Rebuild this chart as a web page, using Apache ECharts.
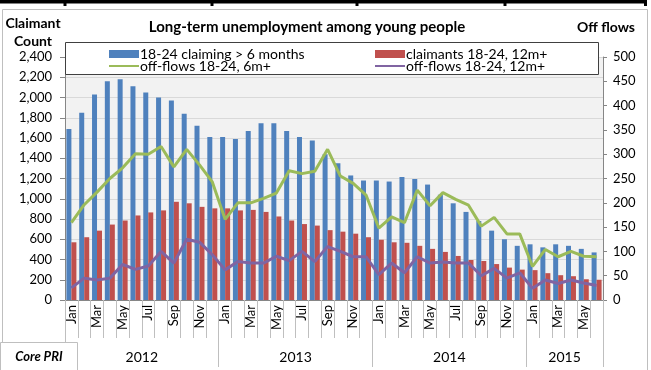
<!DOCTYPE html>
<html><head><meta charset="utf-8">
<script src="https://cdn.jsdelivr.net/npm/echarts@6/dist/echarts.min.js"></script>
<style>html,body{margin:0;padding:0;background:#fff}#c{width:651px;height:370px}</style>
</head><body><div id="c"></div>
<script>
const categories = [
 'Jan-2012','Feb-2012','Mar-2012','Apr-2012','May-2012','Jun-2012','Jul-2012','Aug-2012','Sep-2012','Oct-2012','Nov-2012','Dec-2012',
 'Jan-2013','Feb-2013','Mar-2013','Apr-2013','May-2013','Jun-2013','Jul-2013','Aug-2013','Sep-2013','Oct-2013','Nov-2013','Dec-2013',
 'Jan-2014','Feb-2014','Mar-2014','Apr-2014','May-2014','Jun-2014','Jul-2014','Aug-2014','Sep-2014','Oct-2014','Nov-2014','Dec-2014',
 'Jan-2015','Feb-2015','Mar-2015','Apr-2015','May-2015','Jun-2015'];
const years = ['2012','2013','2014','2015'];
const yearMonths = [12,12,12,6];
const claiming6m = [1690,1850,2030,2160,2180,2110,2050,2000,1970,1840,1720,1610,
 1610,1590,1670,1745,1745,1670,1610,1575,1440,1350,1230,1180,
 1180,1170,1215,1195,1140,1040,955,870,780,685,600,535,
 550,520,550,535,505,470];
const claimants12m = [570,620,685,745,785,835,865,885,970,955,920,905,
 905,885,890,870,825,785,750,735,690,675,655,620,
 595,570,565,535,505,475,435,395,385,355,320,300,
 295,265,245,235,205,200];
const offflows6m = [159,196,222,250,272,301,300,316,274,310,278,243,
 166,200,200,209,220,266,260,265,310,255,240,216,
 148,171,159,226,194,221,207,195,152,170,136,136,
 69,104,89,100,90,89];
const offflows12m = [25,45,41,45,73,63,70,100,76,125,119,93,
 62,79,76,76,90,81,100,79,110,100,89,89,
 52,76,56,89,76,78,76,76,50,65,45,56,
 24,41,34,41,35,30];
const names = ['18-24 claiming > 6 months','claimants 18-24, 12m+','off-flows 18-24, 6m+','off-flows 18-24, 12m+'];
const titleText = 'Long-term unemployment among young people';

const yearBounds = [0]; yearMonths.forEach(m => yearBounds.push(yearBounds[yearBounds.length-1] + m));
const yearMids = years.map((y,i) => (yearBounds[i] + yearBounds[i+1]) / 2);

const F = 'Lato';
const noSym = {opacity: 0, color: 'transparent', borderWidth: 0};
const txt = (s, x, y, size, extra) => ({type: 'text', z: 70, x: x, y: y,
  style: Object.assign({text: s, fontFamily: F, fontSize: size, fontWeight: 'bold', fill: '#000', align: 'center', verticalAlign: 'middle'}, extra || {})});
const chart = echarts.init(document.getElementById('c'), null, {renderer:'canvas'});
chart.setOption({
  animation: false,
  textStyle: {fontFamily: F},
  graphic: [
    {type: 'rect', z: -10, shape: {x: 2.5, y: 9.5, width: 645, height: 380}, style: {fill: 'none', stroke: '#BFBFBF', lineWidth: 1}},
    {type: 'rect', z: 100, shape: {x: 0, y: 0, width: 647, height: 3.5}, style: {fill: '#000'}},
    {type: 'rect', z: 100, shape: {x: 63.5, y: 0, width: 3, height: 6}, style: {fill: '#000'}},
    {type: 'rect', z: 100, shape: {x: 210.5, y: 0, width: 3, height: 6}, style: {fill: '#000'}},
    {type: 'rect', z: 100, shape: {x: 355.5, y: 0, width: 3, height: 6}, style: {fill: '#000'}},
    {type: 'rect', z: 100, shape: {x: 503.5, y: 0, width: 3, height: 6}, style: {fill: '#000'}},
    {type: 'rect', z: 100, shape: {x: 644, y: 0, width: 3, height: 6}, style: {fill: '#000'}},
    txt(titleText, 307, 27, 15),
    txt('Claimant', 33, 23, 14),
    txt('Count', 33, 41, 14),
    txt('Off flows', 606, 27, 14),
    {type: 'rect', z: 50, shape: {x: 65.5, y: 42.5, width: 533, height: 32}, style: {fill: '#fff', stroke: '#404040', lineWidth: 1}},
    {type: 'rect', z: 50, shape: {x: 0.5, y: 342.5, width: 77, height: 40}, style: {fill: '#fff', stroke: '#BFBFBF', lineWidth: 1}},
    txt('Core PRI', 39, 357, 13, {fontStyle: 'italic'})
  ],
  legend: [
    {left: 103, top: 42, orient: 'vertical', itemGap: -2, itemWidth: 30, itemHeight: 8, z: 60,
     textStyle: {fontFamily: F, fontSize: 14, color: '#000', padding: [0,0,0,-4]},
     data: [{name: names[0], icon: 'rect'}, {name: names[2], itemStyle: noSym}]},
    {left: 369, top: 42, orient: 'vertical', itemGap: -2, itemWidth: 30, itemHeight: 8, z: 60,
     textStyle: {fontFamily: F, fontSize: 14, color: '#000', padding: [0,0,0,-4]},
     data: [{name: names[1], icon: 'rect'}, {name: names[3], itemStyle: noSym}]}
  ],
  grid: {left: 65, right: 48, top: 57, bottom: 70, show: true, backgroundColor: '#F2F2F2', borderWidth: 0},
  xAxis: [
    {type: 'category', data: categories, boundaryGap: true,
     axisLine: {show: true, lineStyle: {color: '#868686'}},
     axisTick: {show: true, interval: 0, length: 38, lineStyle: {color: '#BFBFBF'}},
     axisLabel: {interval: 1, rotate: 90, margin: 5, fontFamily: F, fontSize: 13, color: '#000',
       formatter: v => v.split('-')[0]}},
    {type: 'value', min: 0, max: yearBounds[yearBounds.length-1], position: 'bottom',
     axisLine: {show: false}, splitLine: {show: false},
     axisTick: {show: true, length: 67, customValues: yearBounds, lineStyle: {color: '#BFBFBF'}},
     axisLabel: {margin: 50, fontFamily: F, fontSize: 14, color: '#000', customValues: yearMids,
       formatter: v => years[yearMids.indexOf(v)] || ''}}
  ],
  yAxis: [
    {type: 'value', min: 0, max: 2400, interval: 200,
     axisLine: {show: true, lineStyle: {color: '#868686'}},
     axisTick: {show: true, length: 5, lineStyle: {color: '#868686'}},
     splitLine: {show: true, lineStyle: {color: '#D9D9D9'}},
     axisLabel: {margin: 13, fontFamily: F, fontSize: 13, color: '#000',
       formatter: v => v.toLocaleString('en-US')}},
    {type: 'value', min: 0, max: 500, interval: 50, position: 'right',
     axisLine: {show: true, lineStyle: {color: '#868686'}},
     axisTick: {show: true, length: 4, lineStyle: {color: '#868686'}},
     splitLine: {show: false},
     axisLabel: {margin: 10, fontFamily: F, fontSize: 13, color: '#000'}}
  ],
  series: [
    {name: names[0], type: 'bar', data: claiming6m, itemStyle: {color: '#4F81BD'}, barGap: '0%', barCategoryGap: '22%'},
    {name: names[1], type: 'bar', data: claimants12m, itemStyle: {color: '#C0504D'}},
    {name: names[2], type: 'line', yAxisIndex: 1, data: offflows6m, symbol: 'none', lineStyle: {color: '#9BBB59', width: 3}, itemStyle: {color: '#9BBB59'}, z: 5},
    {name: names[3], type: 'line', yAxisIndex: 1, data: offflows12m, symbol: 'none', lineStyle: {color: '#8064A2', width: 3}, itemStyle: {color: '#8064A2'}, z: 5}
  ]
});
</script></body></html>
